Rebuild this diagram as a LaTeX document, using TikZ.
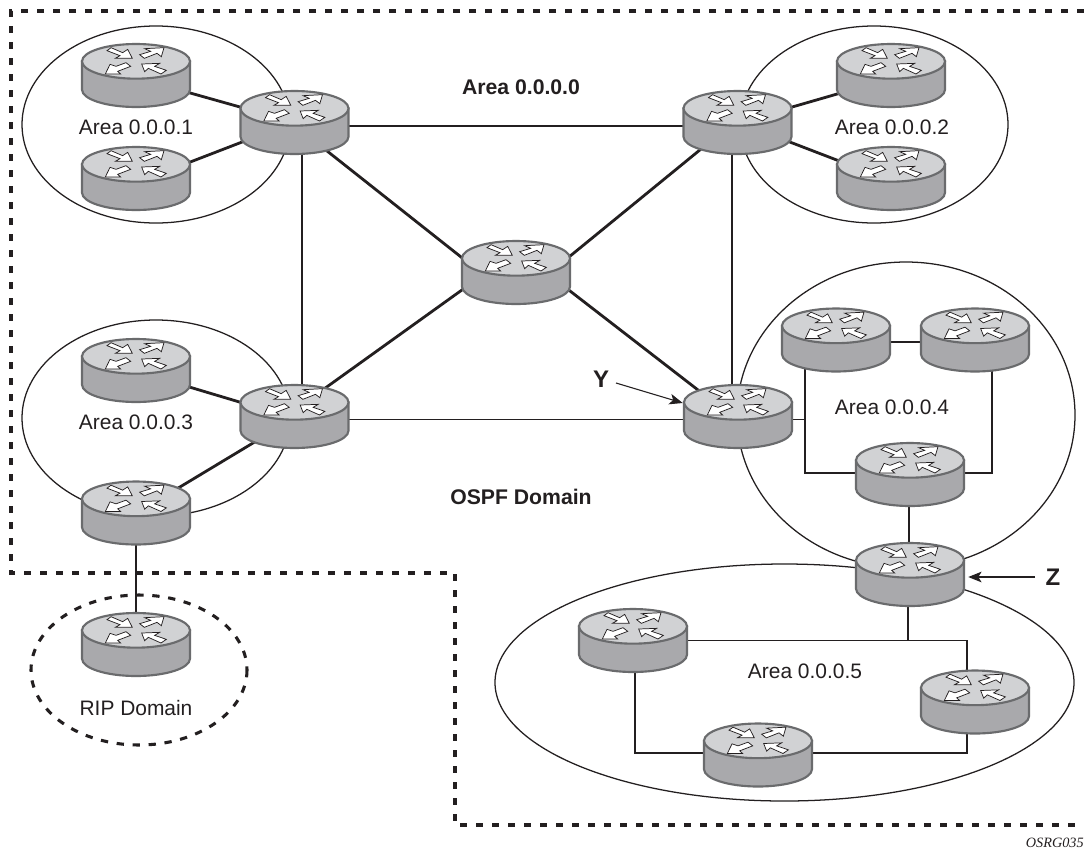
\documentclass[tikz,border=0pt]{standalone}
\usepackage{fontspec}
\setmainfont{Liberation Sans}
\newfontfamily\serifcap{Liberation Serif}
\usetikzlibrary{arrows.meta,shapes.geometric}
\definecolor{ink}{HTML}{231F20}
\definecolor{rtop}{HTML}{D1D2D4}
\definecolor{rside}{HTML}{A9A9AC}
\definecolor{redge}{HTML}{6A6B6D}
\tikzset{
  routerbox/.style={rectangle,inner sep=0pt,minimum width=81pt,minimum height=47.25pt},
  thinline/.style={draw=ink,line width=0.95pt,line join=miter},
  thickline/.style={draw=ink,line width=2.1pt},
  pointer/.style={draw=ink,line width=0.8pt,-{Stealth[length=10pt,width=8pt,inset=2.5pt]}},
  areaoval/.style={draw=ink,line width=0.95pt},
  domainline/.style={draw=ink,line width=2.3pt,dash pattern=on 5.5pt off 6.5pt},
  arealabel/.style={font=\fontsize{15.7}{18}\selectfont,text=ink,inner sep=0pt},
  boldlabel/.style={font=\fontsize{15.9}{18}\selectfont\bfseries,text=ink,inner sep=0pt},
  marklabel/.style={font=\fontsize{18}{20}\selectfont\bfseries,text=ink,inner sep=0pt},
  rarrow/.style={draw=ink,fill=white,line width=0.55pt,line join=miter},
}
\newcommand{\routerpic}[1]{%
  \begin{scope}[shift={(#1.center)}]
  \begin{scope}[x=.25pt,y=-.25pt,shift={(0,-94.5)}]
    \path[fill=rside,draw=redge,line width=1.6pt] (-162,52) -- (-162,137)
      .. controls (-162,165.7) and (-89.5,189) .. (0,189)
      .. controls (89.5,189) and (162,165.7) .. (162,137) -- (162,52) -- cycle;
    \path[fill=rtop,draw=redge,line width=1.6pt] (0,52) ellipse (162 and 52);
    \path[rarrow] (-75,11) -- (-40,26) -- (-25,16) -- (-11,43) -- (-62,43) -- (-48,35) -- (-87,20) -- cycle;
    \path[rarrow] (84,11) -- (26,14) -- (44,22) -- (11,32) -- (25,43) -- (63,28) -- (76,38) -- cycle;
    \path[rarrow] (-92,90) -- (-78,61) -- (-60,67) -- (-30,56) -- (-16,67) -- (-55,82) -- (-46,90) -- cycle;
    \path[rarrow] (17,60) -- (71,58) -- (56,67) -- (91,79) -- (75,90) -- (37,73) -- (26,83) -- cycle;
  \end{scope}
  \end{scope}}
\begin{document}
\begin{tikzpicture}[x=.75pt,y=-.75pt]
\path[use as bounding box,fill=white] (0,0) rectangle (1084,850);

% router positions
\node[routerbox] (a1a) at (136,75.5) {};
\node[routerbox] (a1b) at (136,178.5) {};
\node[routerbox] (r1) at (294.5,122.5) {};
\node[routerbox] (r2) at (737.5,122.5) {};
\node[routerbox] (a2a) at (891,75.5) {};
\node[routerbox] (a2b) at (891,178.5) {};
\node[routerbox] (cr) at (516,272.5) {};
\node[routerbox] (r3) at (294.5,416.5) {};
\node[routerbox] (a3a) at (136,370.5) {};
\node[routerbox] (a3b) at (136,513) {};
\node[routerbox] (r4) at (738,416.5) {};
\node[routerbox] (a4a) at (836,340) {};
\node[routerbox] (a4b) at (975,340) {};
\node[routerbox] (a4c) at (910,474.5) {};
\node[routerbox] (z) at (910,574.5) {};
\node[routerbox] (a5a) at (633,640.5) {};
\node[routerbox] (a5b) at (975,702) {};
\node[routerbox] (a5c) at (758,755) {};
\node[routerbox] (rp) at (136,644.5) {};

% domain boundaries
\draw[domainline] (1084,11) -- (11,11) -- (11,573) -- (455,573) -- (455,825) -- (1084,825);
\draw[domainline] (139,670) ellipse (108 and 75);

% areas
\draw[areaoval] (156,124.5) ellipse (134 and 98.5);
\draw[areaoval] (874,124.5) ellipse (134 and 98.5);
\draw[areaoval] (156,418) ellipse (134 and 98);
\draw[areaoval] (906,415) ellipse (169 and 153);
\draw[areaoval] (784.5,682.5) ellipse (289.5 and 118.5);

% thick links
\draw[thickline] ([shift={(40,13.5)}]a1a.center) -- ([shift={(-20,-5.8)}]r1.center);
\draw[thickline] ([shift={(40,-11)}]a1b.center) -- ([shift={(-20.5,7.2)}]r1.center);
\draw[thickline] ([shift={(-40,14.5)}]a2a.center) -- ([shift={(20,-5.5)}]r2.center);
\draw[thickline] ([shift={(-40,-13)}]a2b.center) -- ([shift={(20,7.1)}]r2.center);
\draw[thickline] ([shift={(40,12.5)}]a3a.center) -- ([shift={(-20,-4)}]r3.center);
\draw[thickline] ([shift={(24,-14)}]a3b.center) -- ([shift={(-4.5,4.2)}]r3.center);
\draw[thickline] ([shift={(15.5,15)}]r1.center) -- ([shift={(-36,-.5)}]cr.center);
\draw[thickline] ([shift={(-17.5,11)}]r2.center) -- ([shift={(34,0)}]cr.center);
\draw[thickline] ([shift={(15.5,-17.5)}]r3.center) -- ([shift={(-36,4.5)}]cr.center);
\draw[thickline] ([shift={(-18,-9.5)}]r4.center) -- ([shift={(34,3)}]cr.center);
\draw[thickline] (a3b.center) -- (rp.center);

% thin links
\draw[thinline] ([shift={(0,3.5)}]r1.center) -- ([shift={(0,3.5)}]r2.center);
\draw[thinline] ([shift={(0,3)}]r3.center) -- ([shift={(0,3)}]r4.center);
\draw[thinline] ([shift={(7.5,0)}]r1.center) -- ([shift={(7.5,0)}]r3.center);
\draw[thinline] ([shift={(-5.5,0)}]r2.center) -- ([shift={(-6,0)}]r4.center);
\draw[thinline] ([shift={(0,2)}]a4a.center) -- ([shift={(0,2)}]a4b.center);
\draw[thinline] ([shift={(-31,0)}]a4a.center) |- ([shift={(0,-1.5)}]a4c.center);
\draw[thinline] ([shift={(17,0)}]a4b.center) |- ([shift={(0,-1.5)}]a4c.center);
\draw[thinline] ([shift={(0,3)}]r4.center) -- ([shift={(-31,79.5)}]a4a.center);
\draw[thinline] ([shift={(-1,0)}]a4c.center) -- ([shift={(-1,0)}]z.center);
\draw[thinline] (a5a.center) -| ([shift={(-8,0)}]a5b.center);
\draw[thinline] ([shift={(-2,0)}]z.center) |- (a5a.center);
\draw[thinline] ([shift={(2,0)}]a5a.center) |- ([shift={(0,-2)}]a5c.center);
\draw[thinline] ([shift={(0,-2)}]a5c.center) -| ([shift={(-8,0)}]a5b.center);

% routers on top
\routerpic{a1a}\routerpic{a1b}\routerpic{r1}\routerpic{r2}\routerpic{a2a}\routerpic{a2b}
\routerpic{cr}\routerpic{r3}\routerpic{a3a}\routerpic{a3b}\routerpic{r4}\routerpic{a4a}
\routerpic{a4b}\routerpic{a4c}\routerpic{z}\routerpic{a5a}\routerpic{a5b}\routerpic{a5c}\routerpic{rp}

% labels
\node[arealabel] (l1) at (136,127) {Area 0.0.0.1};
\node[arealabel] (l2) at (892,127) {Area 0.0.0.2};
\node[arealabel] (l3) at (136,422) {Area 0.0.0.3};
\node[arealabel] (l4) at (892,407) {Area 0.0.0.4};
\node[arealabel] (l5) at (805,671) {Area 0.0.0.5};
\node[arealabel] (lr) at (136,708) {RIP Domain};
\node[boldlabel] (l0) at (521,87) {Area 0.0.0.0};
\node[boldlabel] (lo) at (521,497) {OSPF Domain};
\node[marklabel] (ly) at (601,379) {Y};
\node[marklabel] (lz) at (1053,577) {Z};
\node[anchor=east,inner sep=0pt,font=\serifcap\itshape\fontsize{10.7}{12}\selectfont,text=ink] (cap) at (1084,843) {OSRG035};

\draw[pointer] ([shift={(15,4)}]ly.center) -- ([shift={(-1,-13.5)}]r4.west);
\draw[pointer] ([shift={(-18,0)}]lz.center) -- ([shift={(4,2.5)}]z.east);
\end{tikzpicture}
\end{document}
